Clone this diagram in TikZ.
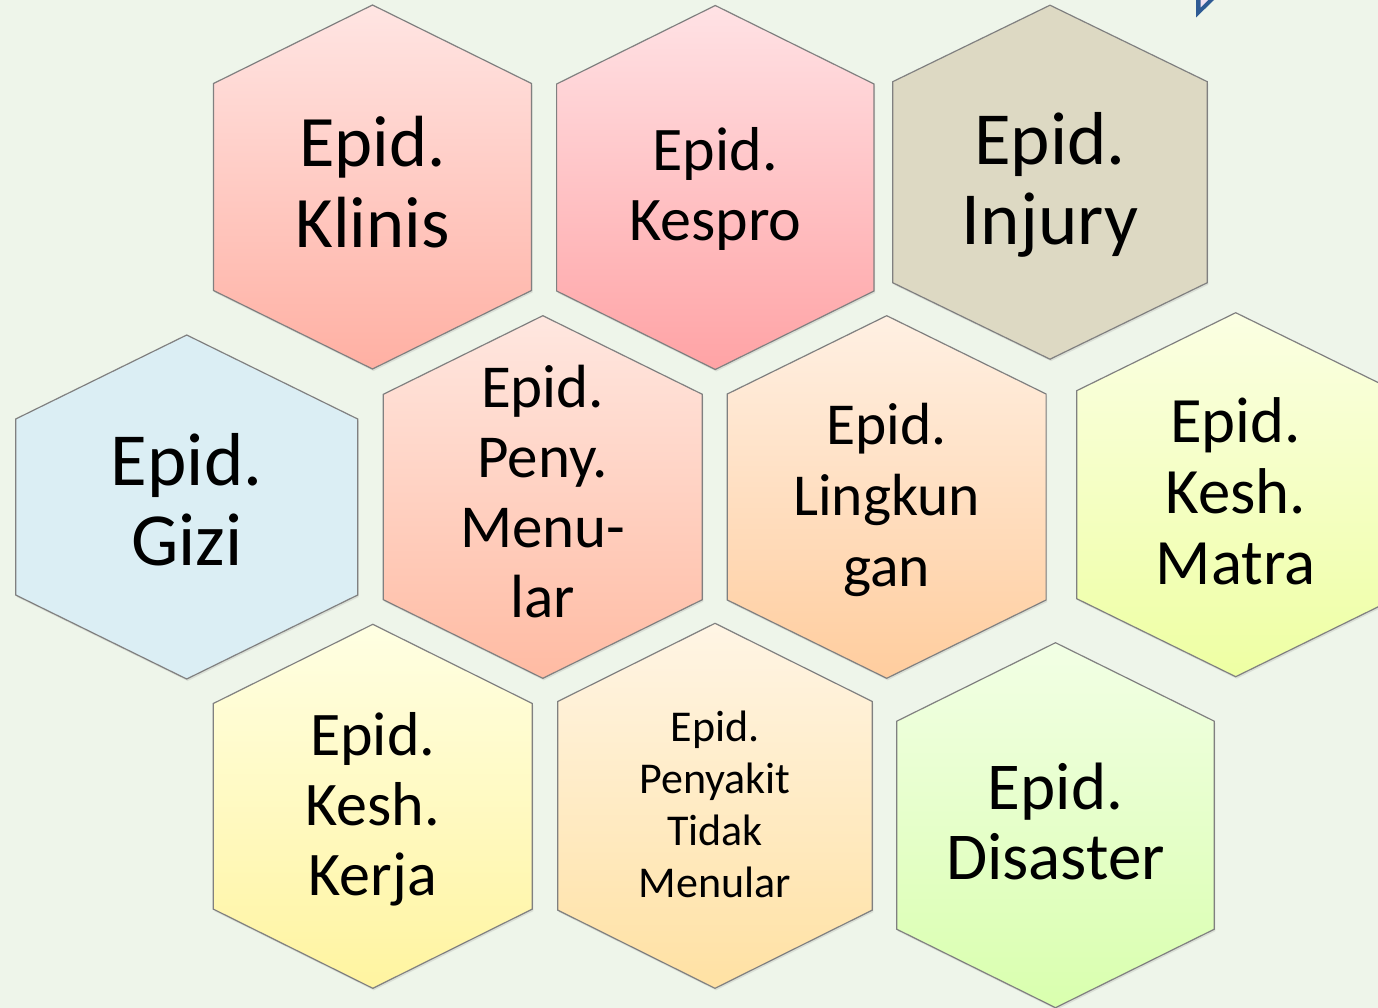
\documentclass[tikz,border=0pt]{standalone}
\usepackage{fontspec}
\setmainfont{Carlito}
\usetikzlibrary{shadows}

\definecolor{bgcol}{RGB}{238,245,234}
\definecolor{edgecol}{RGB}{128,128,128}
\definecolor{cornerblue}{RGB}{46,91,148}

\newcommand{\hexcell}[7]{%
	\coordinate (#2) at (#3,#4);
	\draw[hexline, #1] ([shift={(0,-#6)}]#2) -- ([shift={(#5,-#7)}]#2) -- ([shift={(#5,#7)}]#2) -- ([shift={(0,#6)}]#2) -- ([shift={(-#5,#7)}]#2) -- ([shift={(-#5,-#7)}]#2) -- cycle;
}

\begin{document}
\begin{tikzpicture}[x = 1pt, y = -1pt]
	\tikzstyle{hexline} = [draw = edgecol, line width = 1.2pt, line join = miter, drop shadow = {shadow xshift = 1pt, shadow yshift = -2pt, opacity = 0.18}]
	\tikzstyle{labelStyle} = [inner sep = 0pt, align = center, text = black]
	\useasboundingbox (0,0) rectangle (1378,1008);
	\fill[bgcol] (0,0) rectangle (1378,1008);
	\fill[cornerblue] (1196,0) -- (1196,17.5) -- (1214,0) -- cycle;
	\fill[violet!12] (1200.5,0) -- (1200.5,7.5) -- (1208,0) -- cycle;
	\hexcell{top color = {rgb,255:red,255;green,229;blue,227}, bottom color = {rgb,255:red,255;green,176;blue,163}}{klinis}{372.5}{187}{159}{182}{103.5}
	\hexcell{top color = {rgb,255:red,255;green,226;blue,229}, bottom color = {rgb,255:red,255;green,163;blue,165}}{kespro}{715.3}{187.5}{158.7}{182}{103.5}
	\hexcell{fill = {rgb,255:red,221;green,217;blue,195}}{injury}{1050}{182.2}{157.3}{177}{100.5}
	\hexcell{fill = {rgb,255:red,219;green,238;blue,244}}{gizi}{186.7}{507}{171}{172}{88}
	\hexcell{top color = {rgb,255:red,255;green,231;blue,224}, bottom color = {rgb,255:red,255;green,187;blue,163}}{menular}{542.8}{497}{159.5}{181.3}{102.7}
	\hexcell{top color = {rgb,255:red,255;green,240;blue,227}, bottom color = {rgb,255:red,255;green,205;blue,158}}{lingkungan}{886.7}{497}{159.4}{181.3}{103}
	\hexcell{top color = {rgb,255:red,251;green,255;blue,227}, bottom color = {rgb,255:red,238;green,255;blue,163}}{matra}{1235.7}{494.7}{159}{182}{104}
	\hexcell{top color = {rgb,255:red,255;green,255;blue,227}, bottom color = {rgb,255:red,255;green,244;blue,160}}{kerja}{372.8}{806.3}{159.5}{182}{102.8}
	\hexcell{top color = {rgb,255:red,255;green,245;blue,229}, bottom color = {rgb,255:red,255;green,225;blue,163}}{ptm}{715}{805.8}{157.3}{182.5}{104.3}
	\hexcell{top color = {rgb,255:red,242;green,255;blue,229}, bottom color = {rgb,255:red,217;green,255;blue,174}}{disaster}{1055.5}{825.2}{158.8}{182.5}{104}
	\node[labelStyle, font = \fontsize{72.5}{81.7}\selectfont] (klinisText) at (372.5,182) {Epid.\\Klinis};
	\node[labelStyle, font = \fontsize{62}{69.3}\selectfont] (kesproText) at (715.3,189) {Epid.\\Kespro};
	\node[labelStyle, font = \fontsize{75}{80}\selectfont] (injuryText) at (1050,184.4) {Epid.\\Injury};
	\node[labelStyle, font = \fontsize{75}{80}\selectfont] (giziText) at (186.7,500) {Epid.\\Gizi};
	\node[labelStyle, font = \fontsize{61}{70.2}\selectfont] (menularText) at (542.8,491.5) {Epid.\\Peny.\\Menu-\\lar};
	\node[labelStyle, font = \fontsize{59.5}{71}\selectfont] (lingkunganText) at (886.7,500) {Epid.\\Lingkun\\gan};
	\node[labelStyle, font = \fontsize{64.7}{71}\selectfont] (matraText) at (1235.7,491.4) {Epid.\\Kesh.\\Matra};
	\node[labelStyle, font = \fontsize{62}{70}\selectfont] (kerjaText) at (372.8,809.4) {Epid.\\Kesh.\\Kerja};
	\node[labelStyle, font = \fontsize{44}{52.2}\selectfont] (ptmText) at (715,804.5) {Epid.\\Penyakit\\Tidak\\Menular};
	\node[labelStyle, font = \fontsize{67}{70}\selectfont] (disasterText) at (1055.5,821.3) {Epid.\\Disaster};
\end{tikzpicture}
\end{document}
